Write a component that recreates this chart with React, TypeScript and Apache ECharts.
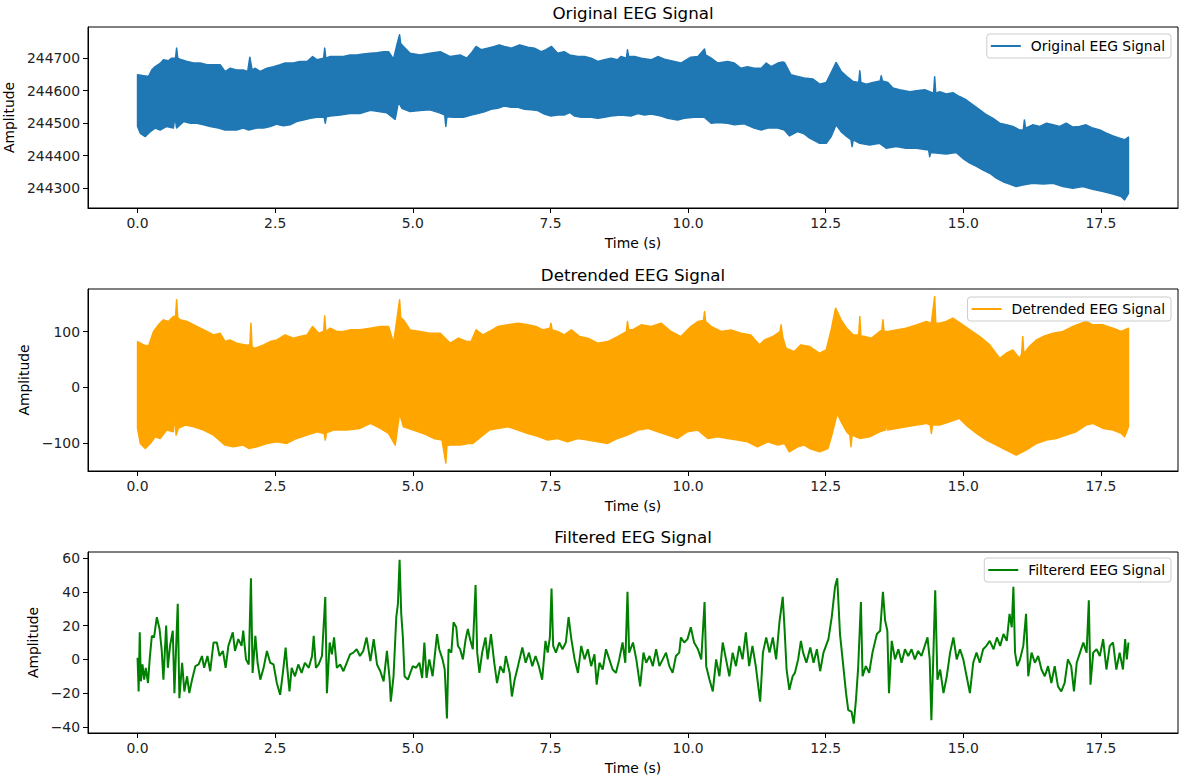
import React, { useEffect, useRef } from "react";
import * as echarts from "echarts";

// ---- Data (time in s, amplitude) ----
// Original signal: upper and lower envelope of the dense trace
const ORIGINAL_UPPER: [number, number][] = [
  [0.0, 244649], [0.2, 244644], [0.26, 244664], [0.32, 244674], [0.41, 244684], [0.47, 244695],
  [0.56, 244692], [0.62, 244700], [0.69, 244700], [0.71, 244731], [0.73, 244700], [0.77, 244697],
  [0.9, 244690], [1.02, 244685], [1.14, 244685], [1.26, 244680], [1.38, 244680], [1.5, 244680],
  [1.59, 244659], [1.68, 244669], [1.8, 244664], [1.92, 244664], [2.0, 244659], [2.04, 244703],
  [2.08, 244664], [2.14, 244669], [2.23, 244659], [2.35, 244669], [2.47, 244674], [2.59, 244680],
  [2.68, 244685], [2.83, 244685], [2.95, 244690], [3.08, 244690], [3.18, 244705], [3.26, 244695],
  [3.38, 244700], [3.4, 244731], [3.42, 244700], [3.5, 244705], [3.62, 244705], [3.74, 244705],
  [3.86, 244710], [3.98, 244710], [4.1, 244713], [4.23, 244715], [4.35, 244717], [4.47, 244720],
  [4.56, 244720], [4.65, 244697], [4.71, 244741], [4.76, 244772], [4.78, 244745], [4.83, 244736],
  [4.95, 244715], [5.13, 244710], [5.31, 244715], [5.5, 244720], [5.68, 244705], [5.86, 244710],
  [5.98, 244700], [6.06, 244715], [6.15, 244736], [6.24, 244726], [6.36, 244731], [6.48, 244736],
  [6.57, 244741], [6.66, 244736], [6.79, 244731], [6.94, 244741], [7.09, 244734], [7.21, 244731],
  [7.33, 244720], [7.42, 244726], [7.52, 244736], [7.63, 244715], [7.75, 244720], [7.85, 244710],
  [8.0, 244705], [8.12, 244705], [8.24, 244700], [8.36, 244690], [8.48, 244695], [8.6, 244700],
  [8.72, 244695], [8.78, 244705], [8.88, 244700], [8.9, 244726], [8.92, 244705], [9.03, 244705],
  [9.15, 244700], [9.33, 244695], [9.45, 244705], [9.57, 244697], [9.75, 244690], [9.87, 244685],
  [10.05, 244703], [10.18, 244705], [10.3, 244728], [10.32, 244710], [10.42, 244700], [10.54, 244685],
  [10.72, 244690], [10.84, 244685], [10.96, 244669], [11.08, 244674], [11.2, 244669], [11.33, 244669],
  [11.42, 244685], [11.51, 244674], [11.63, 244685], [11.72, 244688], [11.75, 244687], [11.87, 244649],
  [11.99, 244644], [12.11, 244639], [12.27, 244636], [12.39, 244620], [12.51, 244625], [12.6, 244656],
  [12.69, 244687], [12.78, 244660], [12.88, 244644], [13.0, 244628], [13.1, 244625], [13.12, 244661],
  [13.14, 244625], [13.24, 244620], [13.36, 244625], [13.49, 244630], [13.51, 244646], [13.53, 244630],
  [13.63, 244625], [13.72, 244608], [13.84, 244603], [14.03, 244597], [14.15, 244600], [14.3, 244603],
  [14.39, 244597], [14.46, 244592], [14.48, 244643], [14.5, 244592], [14.57, 244597], [14.69, 244590],
  [14.81, 244594], [14.93, 244582], [15.05, 244572], [15.18, 244556], [15.3, 244541], [15.42, 244526],
  [15.54, 244515], [15.66, 244500], [15.78, 244495], [15.9, 244490], [16.02, 244479], [16.09, 244479],
  [16.11, 244510], [16.13, 244485], [16.26, 244495], [16.39, 244490], [16.51, 244500], [16.63, 244495],
  [16.75, 244490], [16.87, 244500], [16.99, 244488], [17.11, 244490], [17.23, 244495], [17.35, 244485],
  [17.48, 244479], [17.6, 244469], [17.72, 244461], [17.84, 244454], [17.93, 244449], [18.0, 244457],
];
const ORIGINAL_LOWER: [number, number][] = [
  [0.0, 244490], [0.05, 244469], [0.14, 244459], [0.23, 244474], [0.32, 244485], [0.41, 244479],
  [0.53, 244490], [0.65, 244485], [0.68, 244520], [0.71, 244485], [0.84, 244505], [0.96, 244500],
  [1.08, 244500], [1.2, 244495], [1.32, 244490], [1.47, 244485], [1.59, 244479], [1.68, 244479],
  [1.8, 244479], [1.92, 244485], [2.02, 244479], [2.17, 244485], [2.29, 244485], [2.41, 244490],
  [2.53, 244497], [2.65, 244492], [2.77, 244495], [2.89, 244505], [3.01, 244510], [3.14, 244515],
  [3.26, 244518], [3.39, 244518], [3.41, 244500], [3.43, 244520], [3.5, 244522], [3.68, 244525],
  [3.86, 244530], [4.04, 244530], [4.23, 244540], [4.41, 244535], [4.53, 244532], [4.68, 244512],
  [4.74, 244566], [4.8, 244546], [4.95, 244536], [5.13, 244539], [5.31, 244541], [5.5, 244531],
  [5.58, 244525], [5.6, 244490], [5.62, 244520], [5.74, 244518], [5.92, 244518], [6.06, 244525],
  [6.18, 244530], [6.3, 244535], [6.42, 244543], [6.54, 244546], [6.66, 244553], [6.79, 244549],
  [6.91, 244549], [7.03, 244543], [7.15, 244541], [7.27, 244539], [7.39, 244528], [7.51, 244522],
  [7.63, 244525], [7.75, 244525], [7.85, 244533], [7.94, 244522], [8.06, 244518], [8.24, 244518],
  [8.36, 244515], [8.48, 244518], [8.6, 244522], [8.78, 244525], [8.96, 244522], [9.09, 244530],
  [9.21, 244525], [9.33, 244528], [9.51, 244522], [9.63, 244515], [9.81, 244510], [9.93, 244515],
  [10.11, 244518], [10.3, 244518], [10.42, 244500], [10.54, 244502], [10.72, 244500], [10.84, 244495],
  [11.02, 244498], [11.2, 244485], [11.33, 244479], [11.45, 244485], [11.63, 244485], [11.75, 244479],
  [11.84, 244461], [11.99, 244474], [12.11, 244467], [12.21, 244454], [12.39, 244438], [12.51, 244438],
  [12.6, 244459], [12.69, 244495], [12.78, 244474], [12.88, 244459], [12.96, 244449], [12.98, 244428],
  [13.0, 244449], [13.12, 244438], [13.3, 244433], [13.48, 244438], [13.6, 244423], [13.78, 244428],
  [13.96, 244423], [14.15, 244423], [14.33, 244418], [14.37, 244418], [14.39, 244397], [14.41, 244410],
  [14.51, 244408], [14.69, 244405], [14.87, 244410], [14.99, 244392], [15.12, 244377], [15.24, 244367],
  [15.36, 244356], [15.48, 244346], [15.6, 244331], [15.72, 244320], [15.84, 244313], [15.96, 244305],
  [16.08, 244310], [16.26, 244315], [16.45, 244313], [16.63, 244315], [16.81, 244305], [16.99, 244300],
  [17.17, 244305], [17.35, 244297], [17.54, 244290], [17.72, 244282], [17.87, 244274], [17.93, 244264],
  [18.0, 244284],
];

// Detrended signal envelope
const DETRENDED_UPPER: [number, number][] = [
  [0.0, 82], [0.11, 76], [0.2, 74], [0.29, 100], [0.38, 112], [0.47, 121], [0.56, 118], [0.65, 127],
  [0.69, 127], [0.71, 157], [0.73, 125], [0.77, 121], [0.9, 118], [1.02, 112], [1.14, 106], [1.26, 100],
  [1.38, 94], [1.5, 97], [1.59, 82], [1.68, 85], [1.8, 79], [1.96, 76], [2.04, 76], [2.06, 115],
  [2.08, 72], [2.14, 70], [2.29, 76], [2.41, 82], [2.53, 85], [2.68, 94], [2.83, 88], [2.95, 91],
  [3.08, 94], [3.18, 109], [3.29, 97], [3.38, 100], [3.4, 128], [3.42, 100], [3.5, 106], [3.62, 100],
  [3.74, 100], [3.86, 103], [4.04, 103], [4.23, 106], [4.41, 109], [4.56, 109], [4.65, 79], [4.71, 121],
  [4.76, 157], [4.78, 125], [4.83, 121], [4.95, 103], [5.13, 100], [5.31, 97], [5.5, 97], [5.68, 79],
  [5.83, 88], [5.98, 82], [6.06, 82], [6.15, 103], [6.27, 94], [6.39, 100], [6.54, 109], [6.73, 112],
  [6.91, 115], [7.09, 112], [7.24, 109], [7.36, 103], [7.49, 106], [7.51, 115], [7.53, 103], [7.63, 100],
  [7.75, 94], [7.88, 103], [8.03, 91], [8.18, 88], [8.36, 79], [8.54, 82], [8.72, 91], [8.88, 100],
  [8.9, 118], [8.92, 103], [8.99, 103], [9.15, 112], [9.33, 109], [9.51, 115], [9.69, 100], [9.87, 91],
  [10.05, 109], [10.18, 118], [10.28, 120], [10.3, 136], [10.32, 118], [10.42, 109], [10.6, 100],
  [10.78, 103], [10.96, 97], [11.14, 94], [11.3, 76], [11.39, 85], [11.54, 91], [11.67, 100],
  [11.69, 112], [11.72, 90], [11.78, 70], [11.93, 64], [12.05, 76], [12.21, 73], [12.39, 61],
  [12.51, 67], [12.6, 103], [12.68, 142], [12.78, 121], [12.88, 106], [13.0, 94], [13.1, 94],
  [13.12, 127], [13.14, 92], [13.21, 91], [13.33, 88], [13.48, 100], [13.52, 102], [13.54, 121],
  [13.56, 100], [13.63, 100], [13.78, 103], [13.96, 106], [14.15, 112], [14.33, 118], [14.42, 115],
  [14.48, 163], [14.5, 115], [14.57, 115], [14.69, 118], [14.81, 124], [14.99, 112], [15.12, 103],
  [15.3, 91], [15.48, 76], [15.66, 52], [15.78, 61], [15.9, 67], [16.02, 52], [16.06, 60], [16.08, 91],
  [16.1, 60], [16.2, 73], [16.33, 85], [16.45, 91], [16.63, 97], [16.81, 100], [16.99, 109],
  [17.23, 118], [17.35, 112], [17.54, 112], [17.72, 106], [17.87, 100], [18.0, 106],
];
const DETRENDED_LOWER: [number, number][] = [
  [0.0, -74], [0.05, -101], [0.14, -110], [0.23, -101], [0.32, -89], [0.41, -92], [0.53, -77],
  [0.65, -80], [0.68, -50], [0.7, -86], [0.74, -74], [0.87, -68], [1.02, -71], [1.2, -77], [1.38, -86],
  [1.59, -104], [1.74, -107], [1.92, -104], [2.02, -110], [2.17, -107], [2.35, -101], [2.53, -98],
  [2.71, -101], [2.89, -92], [3.08, -86], [3.26, -80], [3.39, -83], [3.41, -95], [3.43, -82],
  [3.56, -77], [3.8, -77], [4.04, -74], [4.23, -65], [4.41, -74], [4.56, -83], [4.68, -104],
  [4.76, -47], [4.83, -71], [5.01, -77], [5.19, -83], [5.38, -92], [5.53, -95], [5.6, -136],
  [5.62, -105], [5.68, -104], [5.86, -104], [6.01, -101], [6.09, -101], [6.24, -89], [6.39, -77],
  [6.54, -74], [6.73, -71], [6.91, -77], [7.09, -83], [7.27, -88], [7.45, -95], [7.63, -92],
  [7.81, -98], [8.0, -92], [8.18, -95], [8.36, -98], [8.54, -101], [8.72, -92], [8.9, -86],
  [9.09, -77], [9.27, -74], [9.45, -80], [9.63, -86], [9.81, -92], [9.99, -80], [10.18, -77],
  [10.36, -92], [10.54, -89], [10.72, -92], [10.9, -95], [11.08, -98], [11.26, -107], [11.45, -98],
  [11.63, -104], [11.75, -101], [11.84, -116], [11.99, -107], [12.11, -104], [12.21, -110],
  [12.39, -116], [12.54, -110], [12.62, -83], [12.71, -47], [12.78, -62], [12.88, -80], [12.94, -86],
  [12.96, -107], [12.98, -86], [13.12, -92], [13.3, -89], [13.48, -80], [13.58, -77], [13.6, -62],
  [13.62, -77], [13.78, -74], [13.96, -71], [14.15, -68], [14.33, -65], [14.4, -68], [14.42, -83],
  [14.44, -68], [14.57, -68], [14.75, -62], [14.93, -56], [15.05, -68], [15.24, -83], [15.42, -95],
  [15.6, -104], [15.78, -113], [15.96, -122], [16.14, -113], [16.33, -101], [16.51, -95], [16.69, -92],
  [16.87, -86], [17.05, -80], [17.23, -68], [17.35, -65], [17.54, -74], [17.72, -77], [17.87, -83],
  [17.93, -89], [18.0, -71],
];

// Filtered signal
const FILTERED: [number, number][] = [
  [0.0, 1], [0.02, -19], [0.04, 16], [0.06, -13], [0.09, -3], [0.12, -12], [0.15, -5], [0.19, -14],
  [0.22, 0], [0.26, 14], [0.3, 13], [0.35, 25], [0.4, 18], [0.44, 5], [0.47, -12], [0.52, 20],
  [0.55, -5], [0.59, 8], [0.64, 17], [0.67, -20], [0.73, 33], [0.76, -23], [0.81, -2], [0.85, -19],
  [0.9, -10], [0.94, -20], [0.99, -12], [1.05, -4], [1.11, -3], [1.17, 2], [1.21, -5], [1.27, 2],
  [1.32, -7], [1.38, 10], [1.44, 10], [1.49, 2], [1.55, 5], [1.6, -5], [1.65, 8], [1.73, 16],
  [1.77, 5], [1.83, 12], [1.89, 8], [1.92, 17], [1.97, 0], [2.02, -3], [2.06, 48], [2.09, -8],
  [2.14, 14], [2.18, -2], [2.23, -12], [2.29, -5], [2.35, 5], [2.41, -2], [2.47, -3], [2.53, -14],
  [2.59, -21], [2.64, -8], [2.69, 7], [2.72, -5], [2.76, -19], [2.8, -5], [2.86, -10], [2.92, -3],
  [2.98, -8], [3.04, -2], [3.11, -5], [3.17, 2], [3.2, 14], [3.24, -5], [3.29, -3], [3.35, 2],
  [3.41, 37], [3.44, -20], [3.49, 10], [3.53, 3], [3.57, 13], [3.62, -5], [3.68, -3], [3.74, -7],
  [3.8, -2], [3.86, 3], [3.92, 4], [3.98, 6], [4.04, 2], [4.1, 5], [4.16, 13], [4.23, -1],
  [4.29, 12], [4.35, -3], [4.41, -7], [4.47, -13], [4.53, 5], [4.58, -12], [4.6, -25], [4.65, -10],
  [4.7, 25], [4.73, 33], [4.76, 59], [4.79, 27], [4.82, 13], [4.85, -10], [4.91, -12], [5.0, -4],
  [5.06, -5], [5.12, -2], [5.17, -11], [5.21, 10], [5.25, -11], [5.3, 0], [5.36, -10], [5.44, 15],
  [5.48, 6], [5.54, 0], [5.58, -6], [5.62, -35], [5.65, 6], [5.7, 4], [5.74, 22], [5.79, 19],
  [5.82, 8], [5.86, 6], [5.91, 0], [5.96, 12], [6.0, 18], [6.04, 12], [6.09, 6], [6.14, 44],
  [6.17, 4], [6.21, -8], [6.26, 4], [6.32, 13], [6.36, 0], [6.42, 15], [6.48, -2], [6.53, -14],
  [6.59, -4], [6.65, -8], [6.69, 2], [6.76, -8], [6.8, -22], [6.85, -12], [6.91, -4], [6.99, 7],
  [7.05, -2], [7.11, 4], [7.17, -4], [7.23, 2], [7.29, -4], [7.35, -12], [7.41, 11], [7.45, 4],
  [7.49, 13], [7.52, 42], [7.55, 8], [7.6, 4], [7.66, 10], [7.72, 6], [7.78, 10], [7.83, 25],
  [7.88, 12], [7.94, 0], [8.0, -8], [8.06, 8], [8.12, 0], [8.18, 6], [8.24, -4], [8.3, 3],
  [8.34, -15], [8.39, -2], [8.45, -6], [8.51, 6], [8.57, 0], [8.63, -6], [8.69, -8], [8.75, 0],
  [8.81, 10], [8.86, -2], [8.9, 40], [8.93, 4], [9.0, 10], [9.06, 0], [9.13, -16], [9.19, 4],
  [9.24, -2], [9.3, 2], [9.36, -4], [9.42, 6], [9.48, -4], [9.54, 0], [9.6, 4], [9.66, -4],
  [9.72, -8], [9.78, 2], [9.84, 4], [9.87, 13], [9.93, 10], [9.99, 12], [10.05, 19], [10.11, 10],
  [10.18, 6], [10.24, 0], [10.3, 34], [10.33, -4], [10.39, -12], [10.45, -19], [10.51, 0],
  [10.57, -10], [10.63, 10], [10.69, 0], [10.75, -10], [10.81, 4], [10.87, -4], [10.93, 8],
  [10.99, 0], [11.05, 16], [11.11, -4], [11.17, 8], [11.23, -4], [11.31, -25], [11.36, 4],
  [11.42, 13], [11.48, 4], [11.54, 13], [11.6, 0], [11.66, 22], [11.72, 37], [11.75, 20],
  [11.79, -6], [11.84, -18], [11.9, -10], [11.94, -8], [12.0, 0], [12.05, 11], [12.09, 4],
  [12.15, -2], [12.22, 7], [12.28, -2], [12.34, 6], [12.4, -7], [12.46, 4], [12.55, 12], [12.61, 25],
  [12.67, 43], [12.71, 48], [12.76, 15], [12.82, -4], [12.87, -20], [12.91, -30], [12.97, -31],
  [13.01, -38], [13.05, -24], [13.09, -5], [13.14, 34], [13.17, -10], [13.23, -4], [13.29, -8],
  [13.35, 4], [13.43, 15], [13.49, 17], [13.54, 40], [13.58, 23], [13.62, 17], [13.65, -20],
  [13.7, 11], [13.76, 0], [13.82, 6], [13.88, -2], [13.94, 6], [14.0, 2], [14.06, 6], [14.12, 0],
  [14.18, 5], [14.24, 2], [14.3, 8], [14.35, 13], [14.39, 0], [14.42, -36], [14.45, -4], [14.49, 41],
  [14.53, -12], [14.58, -6], [14.64, -20], [14.7, -10], [14.76, 4], [14.82, 13], [14.88, 0],
  [14.94, 6], [15.0, 0], [15.06, -10], [15.12, -20], [15.18, -2], [15.24, 4], [15.3, -2], [15.36, 6],
  [15.42, 8], [15.48, 11], [15.55, 6], [15.61, 13], [15.67, 8], [15.73, 15], [15.79, 11], [15.84, 27],
  [15.88, 19], [15.91, 43], [15.94, 4], [15.98, -4], [16.03, 0], [16.09, 8], [16.14, 27], [16.18, -10],
  [16.24, 4], [16.3, -2], [16.36, 2], [16.42, -6], [16.48, -10], [16.54, -4], [16.6, -14], [16.66, -4],
  [16.72, -16], [16.78, -19], [16.84, -14], [16.9, 0], [16.96, -4], [17.01, -19], [17.06, -2],
  [17.12, 4], [17.18, 10], [17.24, 4], [17.28, 35], [17.31, -15], [17.36, 4], [17.42, 6], [17.48, 2],
  [17.54, 12], [17.6, -6], [17.66, 8], [17.72, 10], [17.78, -6], [17.84, 4], [17.9, -6], [17.94, 12],
  [17.97, 0], [18.0, 10],
];

const TITLES = ["Original EEG Signal", "Detrended EEG Signal", "Filtered EEG Signal"];
const LEGEND_NAMES = ["Original EEG Signal", "Detrended EEG Signal", "Filtererd EEG Signal"];
const X_LABEL = "Time (s)";
const Y_LABEL = "Amplitude";
const X_RANGE = [-0.9, 18.9];
const Y_RANGES = [
  [244239, 244796],
  [-150.5, 176.4],
  [-43.6, 63.6],
];
const Y_STEPS = [100, 100, 20];

const COLORS = ["#1f77b4", "#ffa500", "#008000"];
const FONT = '"DejaVu Sans", sans-serif';
const GRIDS = [
  { top: 27, height: 181, nameGap: 69 },
  { top: 289, height: 182, nameGap: 56 },
  { top: 552, height: 181, nameGap: 47 },
];
const LEGEND_TOPS = [34, 297, 558];
const TITLE_Y = [13, 275, 537];

const fmtNum = (v: number) => (v < 0 ? "\u2212" + String(Math.abs(v)) : String(v));

function bandSeries(name: string, upper: [number, number][], lower: [number, number][], color: string, idx: number) {
  return {
    type: "custom",
    name,
    coordinateSystem: "cartesian2d",
    xAxisIndex: idx,
    yAxisIndex: idx,
    data: [upper[0]],
    itemStyle: { color },
    clip: true,
    silent: true,
    renderItem: (_params: any, api: any) => {
      const pts = upper
        .map((p) => api.coord(p))
        .concat(lower.slice().reverse().map((p) => api.coord(p)));
      return {
        type: "polygon",
        shape: { points: pts },
        style: { fill: color, stroke: color, lineWidth: 1.5, lineJoin: "round" },
      };
    },
  };
}

export default function App() {
  const ref = useRef<HTMLDivElement>(null);

  useEffect(() => {
    if (!ref.current) return;
    const chart = echarts.init(ref.current, null, { renderer: "svg" });

    const grid = GRIDS.map((g) => ({
      left: 88,
      width: 1090,
      top: g.top,
      height: g.height,
      containLabel: false,
      outerBoundsMode: "none",
      show: true,
      borderColor: "#000",
      borderWidth: 1,
      backgroundColor: "transparent",
    }));

    const xAxis = GRIDS.map((_g, i) => ({
      type: "value",
      gridIndex: i,
      min: X_RANGE[0],
      max: X_RANGE[1],
      minInterval: 2.5,
      maxInterval: 2.5,
      name: X_LABEL,
      nameLocation: "middle",
      nameGap: 28,
      nameTextStyle: { color: "#000", fontSize: 13.9, fontFamily: FONT },
      axisLine: { show: true, onZero: false, lineStyle: { color: "#000", width: 1 } },
      axisTick: { show: true, length: 5, lineStyle: { color: "#000", width: 1 } },
      axisLabel: {
        color: "#222",
        fontSize: 13.9,
        fontFamily: FONT,
        margin: 8,
        showMinLabel: false,
        showMaxLabel: false,
        formatter: (v: number) => v.toFixed(1),
      },
      splitLine: { show: false },
    }));

    const yAxis = GRIDS.map((g, i) => ({
      type: "value",
      gridIndex: i,
      min: Y_RANGES[i][0],
      max: Y_RANGES[i][1],
      minInterval: Y_STEPS[i],
      maxInterval: Y_STEPS[i],
      name: Y_LABEL,
      nameLocation: "middle",
      nameGap: g.nameGap,
      nameTextStyle: { color: "#000", fontSize: 13.9, fontFamily: FONT },
      axisLine: { show: true, onZero: false, lineStyle: { color: "#000", width: 1 } },
      axisTick: { show: true, length: 5, lineStyle: { color: "#000", width: 1 } },
      axisLabel: {
        color: "#222",
        fontSize: 13.9,
        fontFamily: FONT,
        margin: 8,
        showMinLabel: false,
        showMaxLabel: false,
        formatter: (v: number) => fmtNum(v),
      },
      splitLine: { show: false },
    }));

    const legend = LEGEND_NAMES.map((name, i) => ({
      data: [{ name, icon: "rect" }],
      right: 9,
      top: LEGEND_TOPS[i],
      orient: "vertical",
      itemWidth: 30,
      itemHeight: 2,
      padding: [5, 6, 5, 4],
      backgroundColor: "#fff",
      borderColor: "#cccccc",
      borderWidth: 1,
      borderRadius: 3,
      selectedMode: false,
      textStyle: { color: "#000", fontSize: 13.9, fontFamily: FONT, padding: [0, 0, 0, 5] },
    }));

    const graphic = TITLES.map((t, i) => ({
      type: "text",
      x: 633,
      y: TITLE_Y[i],
      style: {
        text: t,
        textAlign: "center",
        textVerticalAlign: "middle",
        fontSize: 16.7,
        fontFamily: FONT,
        fill: "#000",
      },
    }));

    const series: any[] = [
      bandSeries(LEGEND_NAMES[0], ORIGINAL_UPPER, ORIGINAL_LOWER, COLORS[0], 0),
      bandSeries(LEGEND_NAMES[1], DETRENDED_UPPER, DETRENDED_LOWER, COLORS[1], 1),
      {
        type: "line",
        name: LEGEND_NAMES[2],
        xAxisIndex: 2,
        yAxisIndex: 2,
        data: FILTERED,
        showSymbol: false,
        symbol: "none",
        itemStyle: { color: COLORS[2] },
        lineStyle: { color: COLORS[2], width: 2 },
        silent: true,
      },
    ];

    chart.setOption({
      animation: false,
      backgroundColor: "#fff",
      grid,
      xAxis,
      yAxis,
      legend,
      graphic,
      series,
    });

    return () => chart.dispose();
  }, []);

  return (
    <div
      ref={ref}
      style={{ position: "fixed", left: 0, top: 0, width: 1180, height: 778, background: "#fff" }}
    />
  );
}
